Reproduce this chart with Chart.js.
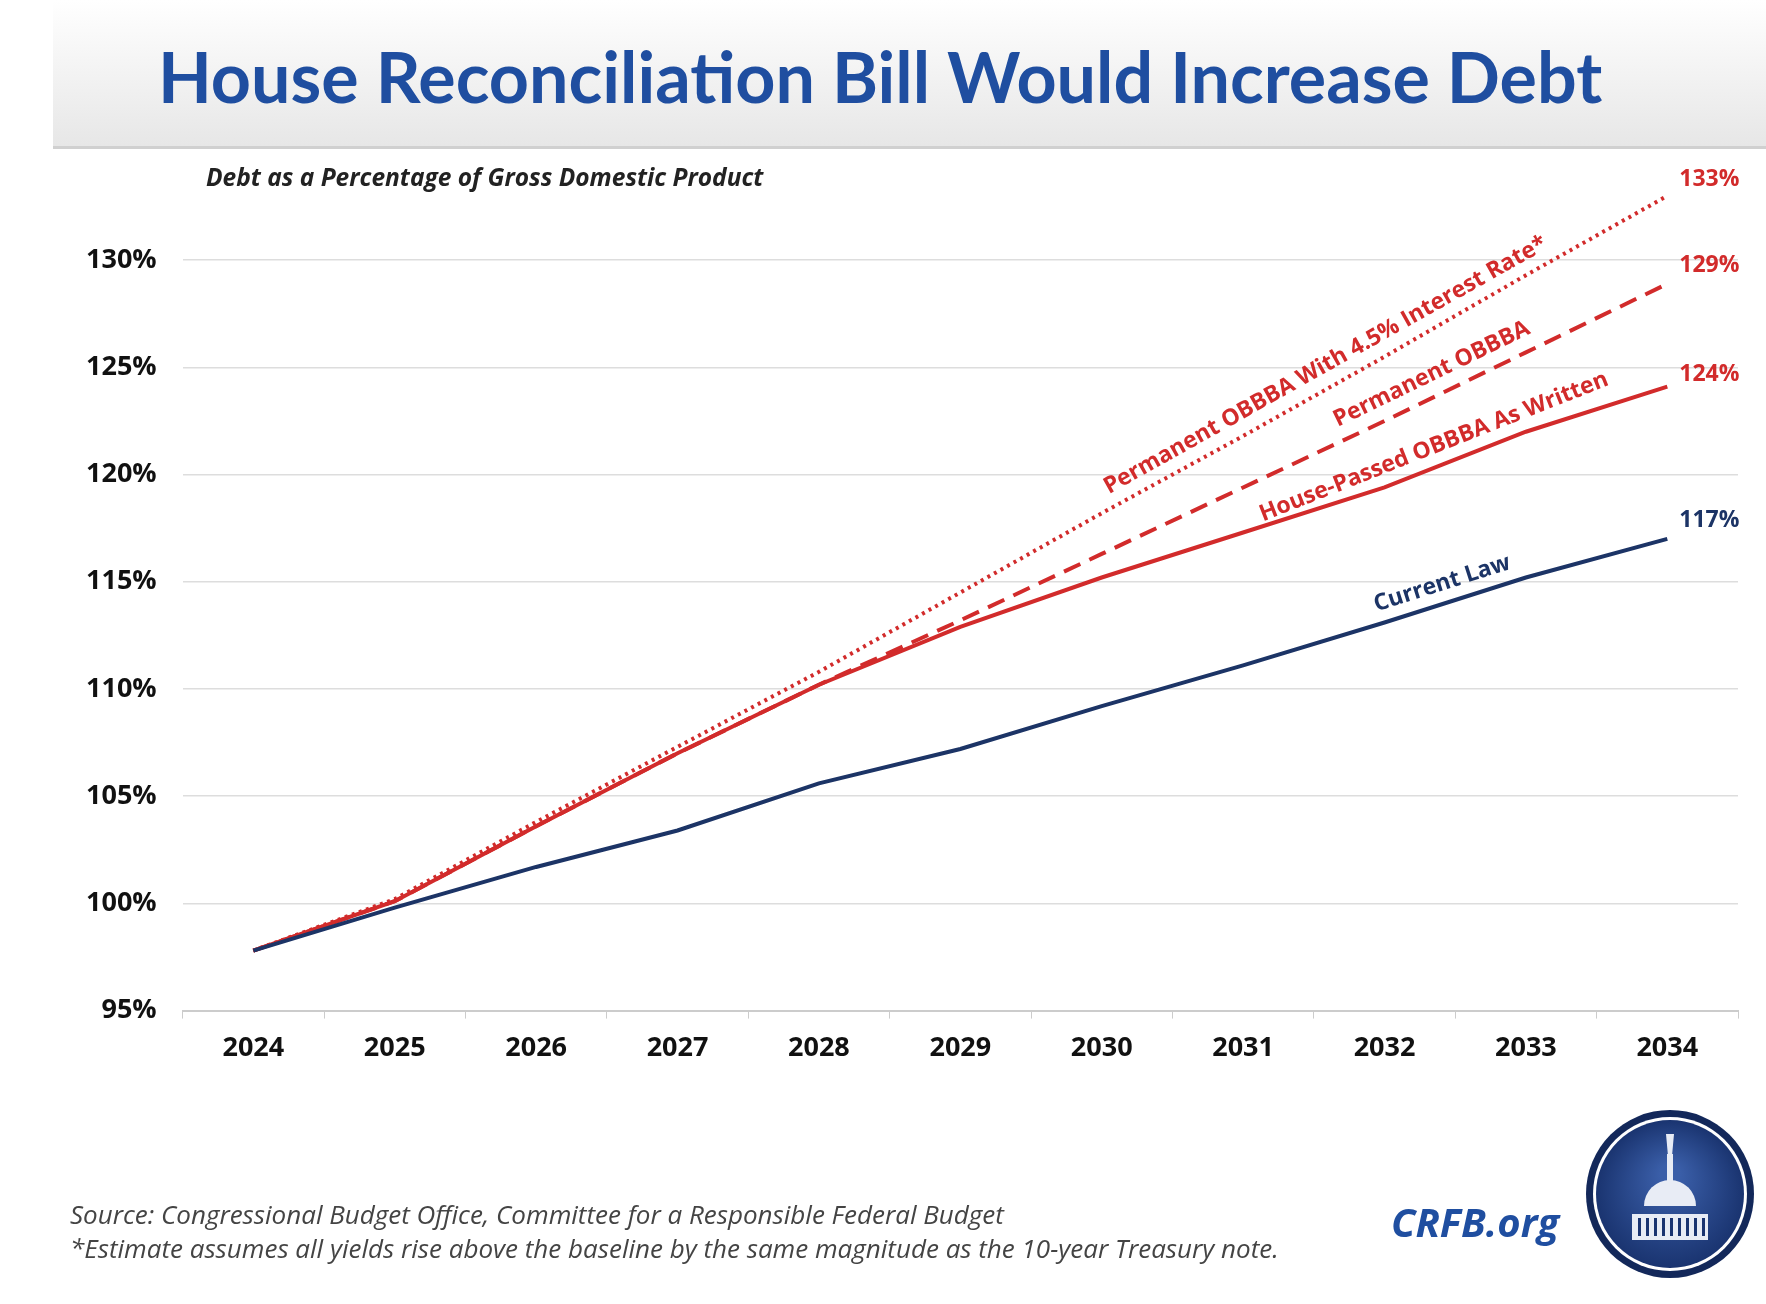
<!DOCTYPE html>
<html><head><meta charset="utf-8">
<script src="https://cdn.jsdelivr.net/npm/chart.js@4/dist/chart.umd.min.js"></script>
<style>html,body{margin:0;padding:0;background:#fff}#wrap{width:1766px;height:1304px;position:relative}</style>
</head><body><div id="wrap"><canvas id="c" width="1766" height="1304"></canvas></div>
<script>
const years = ['2024','2025','2026','2027','2028','2029','2030','2031','2032','2033','2034'];
const currentLaw = [97.8, 99.8, 101.7, 103.4, 105.6, 107.2, 109.2, 111.1, 113.1, 115.2, 117.0];
const housePassed = [97.8, 100.1, 103.6, 107.0, 110.2, 112.9, 115.2, 117.3, 119.4, 122.0, 124.1];
const permanent = [97.8, 100.1, 103.6, 107.0, 110.2, 113.2, 116.3, 119.4, 122.5, 125.7, 128.9];
const permanentRate = [97.8, 100.2, 103.8, 107.3, 110.8, 114.5, 118.2, 121.8, 125.5, 129.3, 133.0];
const yTicks = [95, 100, 105, 110, 115, 120, 125, 130];
const endLabels = ['117%', '124%', '129%', '133%'];
const lineNames = ['Current Law', 'House-Passed OBBBA As Written', 'Permanent OBBBA', 'Permanent OBBBA With 4.5% Interest Rate*'];

const RED = '#d22b2b', NAVY = '#1c3466';

const deco = {
  id: 'deco',
  beforeDraw(chart) {
    const ctx = chart.ctx;
    ctx.save();
    const g = ctx.createLinearGradient(0, 0, 0, 150);
    g.addColorStop(0, '#ffffff'); g.addColorStop(1, '#e6e6e6');
    ctx.fillStyle = g; ctx.fillRect(53, 0, 1713, 147);
    ctx.fillStyle = '#d0d0d0'; ctx.fillRect(53, 146, 1713, 3);
    ctx.fillStyle = '#1f4ea0';
    ctx.font = 'bold 70px Lato, "Open Sans", sans-serif';
    ctx.textBaseline = 'middle'; ctx.textAlign = 'left';
    ctx.fillText('House Reconciliation Bill Would Increase Debt', 158, 80, 1450);
    ctx.fillStyle = '#222';
    ctx.font = 'italic bold 24.5px "Open Sans", sans-serif';
    ctx.fillText('Debt as a Percentage of Gross Domestic Product', 206, 179);
    ctx.restore();
  },
  afterDraw(chart) {
    const ctx = chart.ctx, xs = chart.scales.x, ys = chart.scales.y;
    ctx.save();
    const sets = [currentLaw, housePassed, permanent, permanentRate];
    const cols = [NAVY, RED, RED, RED];
    ctx.font = 'bold 23px "Open Sans", sans-serif';
    ctx.textAlign = 'left'; ctx.textBaseline = 'middle';
    const offs = [-18, -12, -18, -16];
    sets.forEach((d, i) => {
      ctx.fillStyle = cols[i];
      ctx.fillText(endLabels[i], xs.getPixelForValue(10) + 12, ys.getPixelForValue(d[10]) + offs[i]);
    });
    const place = [[0, 8, 9, 0.45, 18], [1, 8, 9, 0.4, 18], [2, 8, 9, 0.4, 20], [3, 6, 9, 0.55, 18]];
    ctx.font = 'bold 23px "Open Sans", sans-serif';
    ctx.textAlign = 'center'; ctx.textBaseline = 'bottom';
    place.forEach(([i, a, b, t, off]) => {
      const d = sets[i];
      const x1 = xs.getPixelForValue(a), y1 = ys.getPixelForValue(d[a]);
      const x2 = xs.getPixelForValue(b), y2 = ys.getPixelForValue(d[b]);
      const ang = Math.atan2(y2 - y1, x2 - x1);
      ctx.save();
      ctx.translate(x1 + (x2 - x1) * t, y1 + (y2 - y1) * t);
      ctx.rotate(ang);
      ctx.fillStyle = cols[i];
      ctx.fillText(lineNames[i], 0, -off + 10);
      ctx.restore();
    });
    ctx.textAlign = 'left'; ctx.textBaseline = 'middle';
    ctx.fillStyle = '#444';
    ctx.font = 'italic 26px "Open Sans", sans-serif';
    ctx.fillText('Source: Congressional Budget Office, Committee for a Responsible Federal Budget', 70, 1217, 940);
    ctx.fillText('*Estimate assumes all yields rise above the baseline by the same magnitude as the 10-year Treasury note.', 70, 1251, 1215);
    ctx.fillStyle = '#1f4ea0';
    ctx.font = 'italic bold 40px "Open Sans", sans-serif';
    ctx.fillText('CRFB.org', 1391, 1226);
    const cx = 1670, cy = 1194;
    ctx.beginPath(); ctx.arc(cx, cy, 84, 0, Math.PI * 2); ctx.fillStyle = '#13285a'; ctx.fill();
    ctx.beginPath(); ctx.arc(cx, cy, 77, 0, Math.PI * 2); ctx.fillStyle = '#fff'; ctx.fill();
    const lg = ctx.createRadialGradient(cx, cy - 20, 10, cx, cy, 74);
    lg.addColorStop(0, '#3a5ea8'); lg.addColorStop(1, '#1a3470');
    ctx.beginPath(); ctx.arc(cx, cy, 74, 0, Math.PI * 2); ctx.fillStyle = lg; ctx.fill();
    ctx.fillStyle = '#e8ecf5';
    ctx.fillRect(cx - 38, cy + 20, 76, 26);
    ctx.beginPath(); ctx.arc(cx, cy + 12, 26, Math.PI, 0); ctx.fill();
    ctx.fillRect(cx - 3, cy - 40, 6, 28);
    ctx.beginPath(); ctx.moveTo(cx - 4, cy - 60); ctx.lineTo(cx + 4, cy - 60); ctx.lineTo(cx + 2, cy - 38); ctx.lineTo(cx - 2, cy - 38); ctx.fill();
    ctx.fillStyle = '#1a3470';
    for (let k = -32; k <= 32; k += 8) ctx.fillRect(cx + k, cy + 24, 3, 18);
    ctx.restore();
  }
};

new Chart(document.getElementById('c'), {
  type: 'line',
  data: {
    labels: years,
    datasets: [
      { label: lineNames[0], data: currentLaw, borderColor: NAVY, borderWidth: 4 },
      { label: lineNames[1], data: housePassed, borderColor: RED, borderWidth: 4 },
      { label: lineNames[2], data: permanent, borderColor: RED, borderWidth: 4, borderDash: [18, 10] },
      { label: lineNames[3], data: permanentRate, borderColor: RED, borderWidth: 4, borderDash: [3, 4.5] }
    ]
  },
  options: {
    responsive: false, animation: false,
    layout: { padding: { left: 60, right: 28, top: 153, bottom: 225 } },
    elements: { point: { radius: 0 }, line: { tension: 0 } },
    plugins: { legend: { display: false }, tooltip: { enabled: false } },
    scales: {
      x: {
        offset: true,
        grid: { display: true, drawOnChartArea: false, drawTicks: true, tickLength: 8, color: '#cccccc', offset: true },
        border: { color: '#cccccc', width: 2 },
        ticks: { color: '#111', font: { family: '"Open Sans", sans-serif', weight: 'bold', size: 27 }, padding: 14 }
      },
      y: {
        min: 95, max: 135,
        afterBuildTicks: (s) => { s.ticks = yTicks.map(v => ({ value: v })); },
        grid: { color: '#dddddd', lineWidth: 1.5, drawTicks: false },
        border: { display: false },
        ticks: { color: '#111', font: { family: '"Open Sans", sans-serif', weight: 'bold', size: 27 }, padding: 26, callback: v => v + '%' }
      }
    }
  },
  plugins: [deco]
});
</script></body></html>
